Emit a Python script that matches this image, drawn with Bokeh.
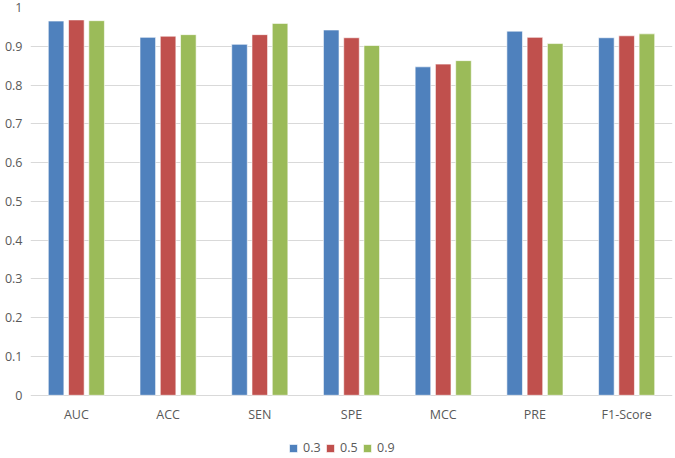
from bokeh.plotting import figure
from bokeh.models import FactorRange, Legend, LegendItem, ColumnDataSource
from bokeh.core.properties import value
from bokeh.transform import dodge
from bokeh.embed import file_html
from bokeh.resources import INLINE

categories = ["AUC", "ACC", "SEN", "SPE", "MCC", "PRE", "F1-Score"]
series_names = ["0.3", "0.5", "0.9"]
values_03 = [0.965, 0.923, 0.905, 0.942, 0.847, 0.939, 0.922]
values_05 = [0.968, 0.926, 0.930, 0.922, 0.854, 0.923, 0.927]
values_09 = [0.966, 0.930, 0.959, 0.902, 0.863, 0.907, 0.932]
y_ticks = [0, 0.1, 0.2, 0.3, 0.4, 0.5, 0.6, 0.7, 0.8, 0.9, 1]

colors = ["#4F81BD", "#C0504D", "#9BBB59"]
offsets = [-0.221, 0.0, 0.221]

source = ColumnDataSource(data=dict(cat=categories, s03=values_03, s05=values_05, s09=values_09,
                                    base=[y_ticks[0]] * len(categories)))

p = figure(x_range=FactorRange(*categories), y_range=(-0.163, 1.0),
           width=675, height=458, output_backend="svg", toolbar_location=None,
           x_axis_location=None,
           min_border_left=30, min_border_top=7, min_border_right=3,
           min_border_bottom=0)
p.outline_line_color = None
p.background_fill_color = "white"
p.border_fill_color = "white"

renderers = []
for col, c, off in zip(["s03", "s05", "s09"], colors, offsets):
    r = p.vbar(x=dodge("cat", off, range=p.x_range), top=col, width=0.17, source=source,
               fill_color=c, line_color="white", line_width=0.6)
    renderers.append(r)

# category labels under the zero line
p.text(x="cat", y="base", text="cat", source=source, text_align="center",
       text_baseline="top", y_offset=11, text_font=value("Open Sans"),
       text_font_size="12.5px", text_color="#595959")

p.xgrid.grid_line_color = None
p.ygrid.grid_line_color = "#D9D9D9"
p.ygrid.grid_line_width = 1
p.ygrid.ticker = y_ticks
p.yaxis.ticker = y_ticks
p.yaxis.major_label_overrides = {0: "0", 1: "1"}
p.yaxis.axis_line_color = None
p.yaxis.major_tick_line_color = None
p.yaxis.minor_tick_line_color = None
p.yaxis.major_tick_out = 0
p.yaxis.major_tick_in = 0
p.yaxis.minor_tick_out = 0
p.yaxis.major_label_standoff = 8
p.yaxis.major_label_text_font = "Open Sans"
p.yaxis.major_label_text_font_size = "12.5px"
p.yaxis.major_label_text_color = "#595959"

legend = Legend(items=[LegendItem(label=n, renderers=[r]) for n, r in zip(series_names, renderers)],
                orientation="horizontal", location=(258, 2),
                glyph_width=10, glyph_height=10, label_standoff=5, spacing=2,
                label_text_font="Open Sans", label_text_font_size="12.5px",
                label_text_color="#595959", border_line_color=None,
                background_fill_alpha=0, padding=0, margin=0, label_height=12)
p.add_layout(legend, "center")

open("out.html", "w").write(file_html(p, INLINE))
